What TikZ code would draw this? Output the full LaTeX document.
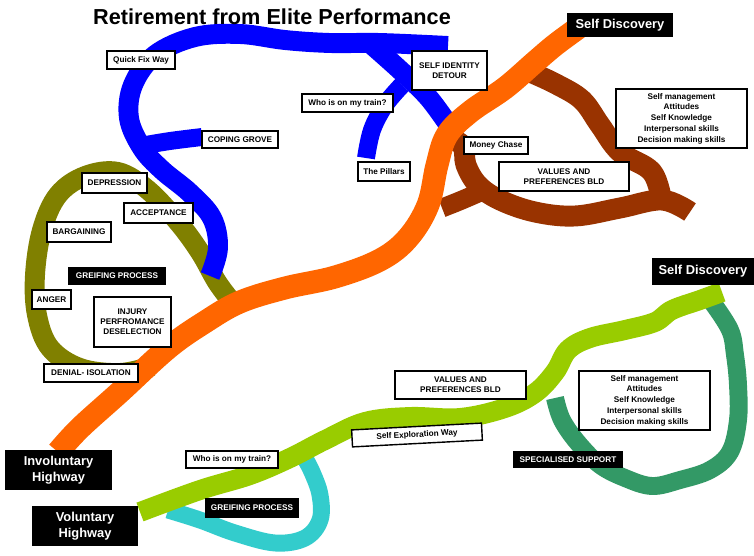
\documentclass[tikz,border=0pt]{standalone}
\usepackage{fontspec}
\setmainfont{Liberation Sans}
\usepackage{xcolor}
\usetikzlibrary{positioning}

\definecolor{quickblue}{RGB}{0,0,255}
\definecolor{involorange}{RGB}{255,102,0}
\definecolor{griefolive}{RGB}{128,128,0}
\definecolor{valuebrown}{RGB}{153,51,0}
\definecolor{volgreen}{RGB}{153,204,0}
\definecolor{griefteal}{RGB}{51,204,204}
\definecolor{supportgreen}{RGB}{51,153,102}

\begin{document}
\begin{tikzpicture}[
  x=0.03cm,y=-0.03cm,
  every node/.style={font=\bfseries\fontsize{7}{8.5}\selectfont,align=center,inner sep=1pt},
  lbl/.style={draw,line width=1.2pt,fill=white},
  tag/.style={fill=black,text=white},
  sz/.style 2 args={minimum width=#1*0.03cm,minimum height=#2*0.03cm},
  road/.style={line width=#1*0.85pt,line join=round},
]
\useasboundingbox (0,0) rectangle (754,555);
% roads
\draw[road=20,griefolive] plot[smooth,tension=0.6] coordinates{(152,366) (120,373) (80,368) (50,348) (37,315) (35,275) (42,230) (58,195) (85,176) (118,172) (148,190) (178,222) (200,252) (217,282) (232,302)};
\draw[road=20,quickblue] plot[smooth,tension=0.6] coordinates{(210,276) (218,248) (212,218) (190,193) (162,170) (142,148) (129,118) (133,85) (155,55) (195,37) (240,34) (285,40) (330,43) (380,43) (448,46)};
\draw[road=18,quickblue] plot[smooth,tension=0.6] coordinates{(140,146) (170,141) (202,137)};
\draw[road=20,quickblue] plot[smooth,tension=0.6] coordinates{(372,45) (400,70) (428,97) (450,127)};
\draw[road=18,quickblue] plot[smooth,tension=0.6] coordinates{(402,85) (385,105) (372,130) (366,158)};
\draw[road=21,valuebrown] plot[smooth,tension=0.6] coordinates{(440,134) (462,145) (466,165) (478,185) (500,200) (535,212) (575,216) (620,208) (662,200) (690,212)};
\draw[road=21,valuebrown] plot[smooth,tension=0.6] coordinates{(662,203) (652,172) (620,152) (600,125) (582,100) (556,84) (530,72)};
\draw[road=19,valuebrown] plot[smooth,tension=0.6] coordinates{(485,190) (462,200) (442,208)};
\draw[road=23,involorange] plot[smooth,tension=0.6] coordinates{(58,452) (80,428) (120,392) (168,348) (205,322) (240,302) (285,288) (335,277) (380,260) (408,238) (428,205) (437,165) (447,135) (470,112) (505,88) (535,62) (555,45) (578,28)};
\draw[road=17,griefteal] plot[smooth,tension=0.6] coordinates{(168,510) (200,520) (235,533) (275,543) (305,538) (320,520) (320,495) (312,472) (303,455)};
\draw[road=18,supportgreen] plot[smooth,tension=0.6] coordinates{(555,398) (562,420) (578,443) (600,465) (625,478) (652,486) (680,480) (710,470) (730,452) (738,420) (738,385) (735,355) (730,330) (712,302)};
\draw[road=20,volgreen] plot[smooth,tension=0.6] coordinates{(140,512) (200,490) (250,475) (290,458) (325,440) (365,422) (410,417) (460,418) (505,408) (535,393) (555,372) (568,350) (590,338) (625,330) (655,322) (672,310) (700,300) (722,292)};
% labels
\node(title) at(272,17){\fontsize{18.5}{21}\selectfont Retirement from Elite Performance};
\node[tag,sz={106}{24},font=\bfseries\fontsize{11}{13}\selectfont](sdtop) at(620,25){Self Discovery};
\node[tag,sz={102}{27},font=\bfseries\fontsize{11}{13}\selectfont](sdright) at(703,271.5){Self Discovery};
\node[tag,sz={107}{40},font=\bfseries\fontsize{11}{14}\selectfont](invol) at(58.5,470){Involuntary\\Highway};
\node[tag,sz={106}{40},font=\bfseries\fontsize{11}{14}\selectfont](vol) at(85,526){Voluntary\\Highway};
\node[lbl,sz={68}{18}](quick) at(141,60){Quick Fix Way};
\node[lbl,sz={76}{17}](coping) at(240,139.5){COPING GROVE};
\node[lbl,sz={75}{39}](identity) at(449.5,70.5){SELF IDENTITY\\DETOUR};
\node[lbl,sz={91}{18}](traina) at(347.5,103){Who is on my train?};
\node[lbl,sz={52}{19}](pillars) at(384,171.5){The Pillars};
\node[lbl,sz={64}{17}](money) at(496,145.5){Money Chase};
\node[lbl,sz={130}{29}](valuesa) at(564,176.5){VALUES AND\\PREFERENCES BLD};
\node[lbl,sz={131}{59},font=\bfseries\fontsize{7}{9.2}\selectfont](skillsa) at(681.5,118.5){Self management\\Attitudes\\Self Knowledge\\Interpersonal skills\\Decision making skills};
\node[lbl,sz={65}{20}](depression) at(114.5,183){DEPRESSION};
\node[lbl,sz={69}{20}](acceptance) at(158.5,213){ACCEPTANCE};
\node[lbl,sz={64}{20}](bargaining) at(79,232){BARGAINING};
\node[tag,sz={98}{18}](griefa) at(117,276){GREIFING PROCESS};
\node[lbl,sz={39}{19}](anger) at(51.5,299.5){ANGER};
\node[lbl,sz={77}{50}](injury) at(132.5,322){INJURY\\PERFROMANCE\\DESELECTION};
\node[lbl,sz={94}{18}](denial) at(91,373){DENIAL- ISOLATION};
\node[lbl,sz={131}{28}](valuesb) at(460.5,385){VALUES AND\\PREFERENCES BLD};
\node[lbl,sz={131}{59},font=\bfseries\fontsize{7}{9.2}\selectfont](skillsb) at(644.5,400.5){Self management\\Attitudes\\Self Knowledge\\Interpersonal skills\\Decision making skills};
\node[lbl,sz={130}{17},rotate=3](explore) at(417,435){Self Exploration Way};
\node[lbl,sz={92}{17}](trainb) at(232,459.5){Who is on my train?};
\node[tag,sz={94}{20}](griefb) at(252,508){GREIFING PROCESS};
\node[tag,sz={110}{17}](support) at(568,459.5){SPECIALISED SUPPORT};
\end{tikzpicture}
\end{document}
